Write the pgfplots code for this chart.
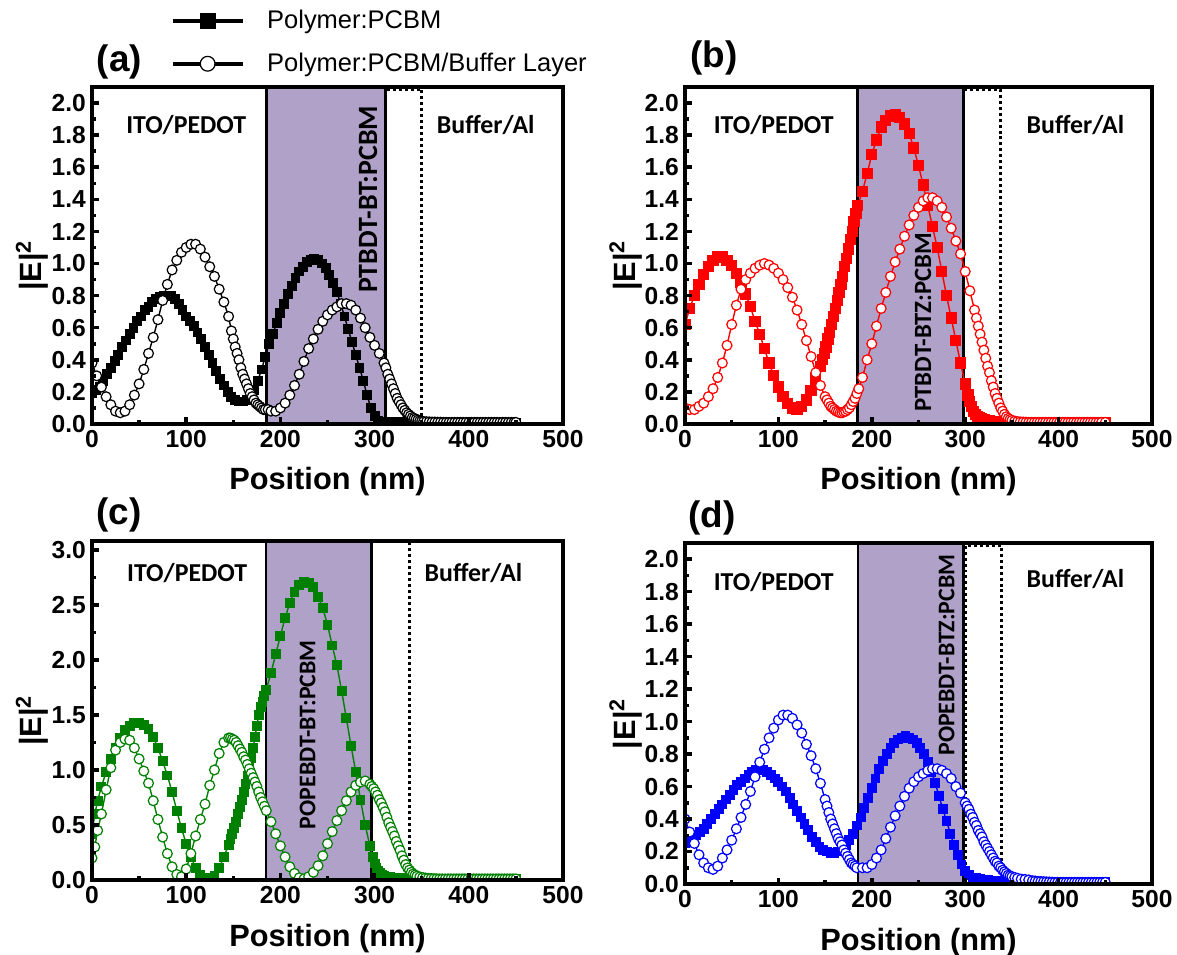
\documentclass[border=0pt]{standalone}
\usepackage{fontspec}
\setmainfont{Liberation Sans}
\newfontfamily\carl{Carlito}
\usepackage{pgfplots}
\usepackage{pgfplotstable}
\pgfplotsset{compat=1.18}

\definecolor{layer}{RGB}{176,161,200}
\definecolor{dgreen}{RGB}{0,128,0}

% panel (a): PTBDT-BT
\pgfplotstableread[row sep=\\]{
x y\\
0 0.19\\ 4 0.21\\ 8 0.23\\ 12 0.27\\ 16 0.31\\ 20 0.35\\ 24 0.39\\ 28 0.43\\ 32 0.48\\ 36 0.52\\
40 0.56\\ 44 0.60\\ 48 0.64\\ 52 0.67\\ 56 0.71\\ 60 0.73\\ 64 0.76\\ 68 0.78\\ 72 0.79\\ 76 0.80\\
80 0.80\\ 84 0.80\\ 88 0.78\\ 92 0.75\\ 96 0.71\\ 100 0.67\\ 104 0.64\\ 108 0.61\\ 112 0.57\\ 116 0.53\\
120 0.48\\ 124 0.43\\ 128 0.38\\ 132 0.33\\ 136 0.28\\ 140 0.24\\ 144 0.20\\ 148 0.17\\ 152 0.15\\ 156 0.14\\
160 0.14\\ 164 0.15\\ 168 0.17\\ 172 0.21\\ 176 0.27\\ 180 0.34\\ 184 0.42\\ 188 0.50\\ 192 0.56\\ 196 0.63\\
200 0.69\\ 204 0.75\\ 208 0.81\\ 212 0.86\\ 216 0.91\\ 220 0.95\\ 224 0.98\\ 228 1.01\\ 232 1.02\\ 236 1.03\\
240 1.02\\ 244 1.00\\ 248 0.97\\ 252 0.93\\ 256 0.88\\ 260 0.82\\ 264 0.75\\ 268 0.67\\ 272 0.59\\ 276 0.51\\
280 0.43\\ 284 0.35\\ 288 0.27\\ 292 0.18\\ 296 0.10\\ 300 0.05\\ 304 0.02\\ 308 0.015\\ 312 0.012\\ 316 0.011\\
320 0.01\\ 324 0.01\\ 328 0.01\\ 332 0.01\\ 336 0.01\\ 340 0.008\\ 344 0.008\\ 348 0.008\\ 352 0.007\\ 356 0.007\\
360 0.006\\ 364 0.006\\ 368 0.006\\ 372 0.005\\ 376 0.005\\ 380 0.005\\ 384 0.005\\ 388 0.005\\ 392 0.005\\ 396 0.005\\
400 0.005\\ 404 0.005\\ 408 0.005\\ 412 0.005\\ 416 0.005\\ 420 0.005\\ 424 0.005\\ 428 0.005\\ 432 0.005\\ 436 0.005\\
440 0.005\\ 444 0.005\\ 448 0.005\\ 450 0.005\\
}\asq
\pgfplotstableread[row sep=\\]{
x y\\
0 0.38\\ 5 0.30\\ 10 0.23\\ 15 0.17\\ 20 0.12\\ 25 0.08\\ 30 0.07\\ 35 0.08\\ 40 0.12\\ 45 0.18\\
50 0.25\\ 55 0.34\\ 60 0.44\\ 65 0.54\\ 70 0.65\\ 75 0.77\\ 80 0.87\\ 85 0.96\\ 90 1.02\\ 95 1.07\\
100 1.10\\ 105 1.12\\ 110 1.12\\ 115 1.09\\ 120 1.04\\ 125 0.98\\ 130 0.92\\ 135 0.84\\ 140 0.76\\ 145 0.67\\
148 0.58\\ 150 0.53\\ 152 0.48\\ 154 0.44\\ 156 0.40\\ 158 0.35\\ 160 0.31\\ 162 0.28\\ 164 0.25\\ 166 0.22\\
168 0.19\\ 170 0.17\\ 172 0.15\\ 174 0.13\\ 176 0.12\\ 178 0.11\\ 180 0.10\\ 182 0.09\\ 184 0.09\\ 187 0.09\\
190 0.08\\ 195 0.08\\ 200 0.10\\ 205 0.13\\ 210 0.18\\ 215 0.24\\ 220 0.31\\ 225 0.39\\ 230 0.47\\ 235 0.53\\
240 0.59\\ 245 0.64\\ 250 0.68\\ 255 0.71\\ 260 0.73\\ 265 0.75\\ 270 0.75\\ 275 0.74\\ 280 0.71\\ 285 0.66\\
290 0.60\\ 295 0.54\\ 300 0.49\\ 305 0.44\\ 310 0.38\\ 312 0.35\\ 314 0.31\\ 316 0.28\\ 318 0.25\\ 320 0.22\\
322 0.19\\ 324 0.16\\ 326 0.14\\ 328 0.12\\ 330 0.10\\ 332 0.085\\ 334 0.07\\ 336 0.06\\ 338 0.05\\ 340 0.04\\
342 0.035\\ 344 0.03\\ 346 0.025\\ 348 0.02\\ 350 0.018\\ 352 0.015\\ 355 0.014\\ 358 0.013\\ 361 0.012\\ 364 0.012\\
367 0.011\\ 370 0.011\\ 373 0.01\\ 376 0.01\\ 379 0.01\\ 382 0.01\\ 385 0.01\\ 388 0.01\\ 391 0.01\\ 394 0.01\\
397 0.01\\ 400 0.01\\ 403 0.01\\ 406 0.01\\ 409 0.01\\ 412 0.01\\ 415 0.01\\ 418 0.01\\ 421 0.01\\ 424 0.01\\
427 0.01\\ 430 0.01\\ 433 0.01\\ 436 0.01\\ 439 0.01\\ 442 0.01\\ 445 0.01\\ 448 0.01\\ 450 0.01\\
}\aci

% panel (b): PTBDT-BTZ
\pgfplotstableread[row sep=\\]{
x y\\
0 0.62\\ 5 0.72\\ 10 0.80\\ 15 0.87\\ 20 0.93\\ 25 0.98\\ 30 1.02\\ 35 1.04\\ 40 1.04\\ 45 1.02\\
50 0.99\\ 55 0.94\\ 60 0.88\\ 65 0.81\\ 70 0.73\\ 75 0.64\\ 80 0.56\\ 85 0.47\\ 90 0.38\\ 95 0.30\\
100 0.23\\ 105 0.17\\ 110 0.13\\ 115 0.10\\ 120 0.09\\ 125 0.11\\ 130 0.15\\ 135 0.21\\ 140 0.28\\ 145 0.36\\
147 0.40\\ 149 0.44\\ 151 0.48\\ 153 0.53\\ 155 0.57\\ 157 0.62\\ 159 0.67\\ 161 0.72\\ 163 0.77\\ 165 0.82\\
167 0.87\\ 169 0.92\\ 171 0.98\\ 173 1.03\\ 175 1.09\\ 177 1.15\\ 179 1.20\\ 181 1.26\\ 183 1.31\\ 185 1.36\\
190 1.45\\ 195 1.56\\ 200 1.68\\ 205 1.77\\ 210 1.85\\ 215 1.89\\ 220 1.92\\ 225 1.93\\ 230 1.91\\ 235 1.87\\
240 1.81\\ 245 1.72\\ 250 1.61\\ 255 1.49\\ 260 1.36\\ 265 1.23\\ 270 1.10\\ 275 0.95\\ 280 0.80\\ 285 0.66\\
290 0.52\\ 295 0.38\\ 300 0.25\\ 303 0.18\\ 305 0.14\\ 307 0.11\\ 309 0.08\\ 311 0.06\\ 313 0.048\\ 315 0.04\\
317 0.033\\ 320 0.027\\ 323 0.023\\ 326 0.02\\ 330 0.017\\ 334 0.015\\ 338 0.013\\ 342 0.012\\ 346 0.011\\ 350 0.01\\
354 0.01\\ 358 0.01\\ 362 0.01\\ 366 0.01\\ 370 0.01\\ 374 0.01\\ 378 0.01\\ 382 0.01\\ 386 0.01\\ 390 0.01\\
394 0.01\\ 398 0.01\\ 402 0.01\\ 406 0.01\\ 410 0.01\\ 414 0.01\\ 418 0.01\\ 422 0.01\\ 426 0.01\\ 430 0.01\\
434 0.01\\ 438 0.01\\ 442 0.01\\ 446 0.01\\ 450 0.01\\
}\bsq
\pgfplotstableread[row sep=\\]{
x y\\
0 0.10\\ 5 0.09\\ 10 0.09\\ 15 0.11\\ 20 0.13\\ 25 0.17\\ 30 0.22\\ 35 0.29\\ 40 0.38\\ 45 0.49\\
50 0.62\\ 55 0.74\\ 60 0.84\\ 65 0.90\\ 70 0.94\\ 75 0.97\\ 80 0.99\\ 85 1.00\\ 90 0.99\\ 95 0.97\\
100 0.94\\ 105 0.90\\ 110 0.85\\ 115 0.79\\ 120 0.71\\ 125 0.62\\ 130 0.52\\ 135 0.42\\ 140 0.32\\ 145 0.24\\
150 0.17\\ 152 0.15\\ 154 0.13\\ 156 0.11\\ 158 0.10\\ 160 0.09\\ 162 0.08\\ 164 0.075\\ 166 0.07\\ 168 0.07\\
170 0.075\\ 172 0.08\\ 174 0.09\\ 176 0.10\\ 178 0.12\\ 180 0.14\\ 182 0.16\\ 184 0.19\\ 186 0.22\\ 190 0.29\\
195 0.40\\ 200 0.50\\ 205 0.61\\ 210 0.72\\ 215 0.82\\ 220 0.92\\ 225 1.01\\ 230 1.09\\ 235 1.17\\ 240 1.24\\
245 1.30\\ 250 1.35\\ 255 1.39\\ 260 1.41\\ 265 1.41\\ 270 1.39\\ 275 1.35\\ 280 1.29\\ 285 1.22\\ 290 1.14\\
295 1.06\\ 300 0.95\\ 305 0.83\\ 310 0.71\\ 312 0.66\\ 314 0.61\\ 316 0.56\\ 318 0.51\\ 320 0.46\\ 322 0.41\\
324 0.36\\ 326 0.32\\ 328 0.27\\ 330 0.23\\ 332 0.19\\ 334 0.16\\ 336 0.13\\ 338 0.10\\ 340 0.08\\ 342 0.06\\
344 0.045\\ 346 0.035\\ 348 0.028\\ 350 0.022\\ 353 0.018\\ 356 0.015\\ 359 0.013\\ 362 0.012\\ 365 0.011\\ 368 0.01\\
371 0.01\\ 374 0.01\\ 377 0.01\\ 380 0.01\\ 383 0.01\\ 386 0.01\\ 389 0.01\\ 392 0.01\\ 395 0.01\\ 398 0.01\\
401 0.01\\ 404 0.01\\ 407 0.01\\ 410 0.01\\ 413 0.01\\ 416 0.01\\ 419 0.01\\ 422 0.01\\ 425 0.01\\ 428 0.01\\
431 0.01\\ 434 0.01\\ 437 0.01\\ 440 0.01\\ 443 0.01\\ 446 0.01\\ 450 0.01\\
}\bci

% panel (c): POPEBDT-BT
\pgfplotstableread[row sep=\\]{
x y\\
0 0.42\\ 3 0.60\\ 6 0.72\\ 10 0.85\\ 15 0.98\\ 20 1.10\\ 25 1.20\\ 30 1.29\\ 35 1.36\\ 40 1.40\\
45 1.43\\ 50 1.43\\ 55 1.41\\ 60 1.37\\ 65 1.30\\ 70 1.20\\ 75 1.08\\ 80 0.95\\ 85 0.80\\ 90 0.63\\
95 0.47\\ 100 0.33\\ 105 0.21\\ 110 0.11\\ 115 0.05\\ 120 0.015\\ 125 0.01\\ 130 0.04\\ 135 0.11\\ 140 0.21\\
145 0.32\\ 147 0.37\\ 149 0.42\\ 151 0.47\\ 153 0.53\\ 155 0.60\\ 157 0.66\\ 159 0.73\\ 161 0.80\\ 163 0.87\\
165 0.95\\ 167 1.03\\ 169 1.11\\ 171 1.20\\ 173 1.30\\ 175 1.40\\ 177 1.50\\ 179 1.57\\ 181 1.62\\ 183 1.67\\
185 1.73\\ 190 1.88\\ 195 2.05\\ 200 2.22\\ 205 2.38\\ 210 2.52\\ 215 2.62\\ 220 2.68\\ 225 2.71\\ 230 2.70\\
235 2.66\\ 240 2.57\\ 245 2.47\\ 250 2.32\\ 255 2.13\\ 260 1.95\\ 265 1.72\\ 270 1.47\\ 275 1.22\\ 280 0.98\\
285 0.73\\ 290 0.50\\ 295 0.31\\ 298 0.21\\ 300 0.15\\ 302 0.11\\ 304 0.08\\ 306 0.06\\ 308 0.045\\ 310 0.037\\
313 0.03\\ 316 0.025\\ 320 0.02\\ 325 0.017\\ 330 0.015\\ 334 0.013\\ 338 0.012\\ 342 0.011\\ 346 0.01\\ 350 0.01\\
354 0.01\\ 358 0.01\\ 362 0.01\\ 366 0.01\\ 370 0.01\\ 374 0.01\\ 378 0.01\\ 382 0.01\\ 386 0.01\\ 390 0.01\\
394 0.01\\ 398 0.01\\ 402 0.01\\ 406 0.01\\ 410 0.01\\ 414 0.01\\ 418 0.01\\ 422 0.01\\ 426 0.01\\ 430 0.01\\
434 0.01\\ 438 0.01\\ 442 0.01\\ 446 0.01\\ 450 0.01\\
}\csq
\pgfplotstableread[row sep=\\]{
x y\\
0 0.20\\ 3 0.30\\ 6 0.45\\ 10 0.60\\ 15 0.82\\ 20 1.02\\ 25 1.18\\ 30 1.25\\ 35 1.28\\ 40 1.27\\
45 1.20\\ 50 1.10\\ 55 0.99\\ 60 0.88\\ 65 0.72\\ 70 0.55\\ 75 0.39\\ 80 0.24\\ 85 0.12\\ 90 0.05\\
95 0.03\\ 100 0.10\\ 105 0.24\\ 110 0.40\\ 115 0.55\\ 120 0.69\\ 125 0.86\\ 130 1.00\\ 135 1.15\\ 140 1.25\\
145 1.29\\ 147 1.29\\ 149 1.28\\ 151 1.27\\ 153 1.25\\ 155 1.22\\ 157 1.19\\ 159 1.16\\ 161 1.12\\ 163 1.09\\
165 1.05\\ 167 1.01\\ 169 0.97\\ 171 0.93\\ 173 0.89\\ 175 0.85\\ 177 0.80\\ 179 0.75\\ 181 0.71\\ 183 0.67\\
185 0.63\\ 190 0.53\\ 195 0.42\\ 200 0.31\\ 205 0.21\\ 210 0.12\\ 215 0.06\\ 220 0.02\\ 225 0.01\\ 230 0.03\\
235 0.07\\ 240 0.13\\ 245 0.22\\ 250 0.33\\ 255 0.44\\ 260 0.54\\ 265 0.63\\ 270 0.72\\ 275 0.80\\ 280 0.86\\
285 0.89\\ 290 0.90\\ 295 0.87\\ 297 0.85\\ 299 0.83\\ 301 0.80\\ 303 0.77\\ 305 0.73\\ 307 0.70\\ 309 0.66\\
311 0.62\\ 313 0.57\\ 315 0.52\\ 317 0.48\\ 319 0.44\\ 321 0.40\\ 323 0.35\\ 325 0.31\\ 327 0.27\\ 329 0.22\\
331 0.18\\ 333 0.14\\ 335 0.11\\ 337 0.09\\ 339 0.07\\ 341 0.055\\ 343 0.045\\ 345 0.035\\ 348 0.028\\ 351 0.022\\
354 0.018\\ 357 0.015\\ 360 0.013\\ 363 0.012\\ 366 0.011\\ 369 0.01\\ 372 0.01\\ 375 0.01\\ 378 0.01\\ 381 0.01\\
384 0.01\\ 387 0.01\\ 390 0.01\\ 393 0.01\\ 396 0.01\\ 399 0.01\\ 402 0.01\\ 405 0.01\\ 408 0.01\\ 411 0.01\\
414 0.01\\ 417 0.01\\ 420 0.01\\ 423 0.01\\ 426 0.01\\ 429 0.01\\ 432 0.01\\ 435 0.01\\ 438 0.01\\ 441 0.01\\
444 0.01\\ 447 0.01\\ 450 0.01\\
}\cci

% panel (d): POPEBDT-BTZ
\pgfplotstableread[row sep=\\]{
x y\\
0 0.25\\ 4 0.26\\ 8 0.28\\ 12 0.30\\ 16 0.32\\ 20 0.34\\ 24 0.37\\ 28 0.40\\ 32 0.43\\ 36 0.46\\
40 0.49\\ 44 0.52\\ 48 0.55\\ 52 0.58\\ 56 0.61\\ 60 0.63\\ 64 0.65\\ 68 0.67\\ 72 0.69\\ 76 0.70\\
80 0.70\\ 84 0.70\\ 88 0.69\\ 92 0.67\\ 96 0.65\\ 100 0.63\\ 104 0.60\\ 108 0.57\\ 112 0.53\\ 116 0.49\\
120 0.45\\ 124 0.41\\ 128 0.37\\ 132 0.33\\ 136 0.29\\ 140 0.26\\ 144 0.23\\ 148 0.21\\ 152 0.20\\ 156 0.19\\
160 0.19\\ 164 0.20\\ 168 0.22\\ 172 0.24\\ 176 0.27\\ 180 0.31\\ 184 0.36\\ 188 0.41\\ 192 0.47\\ 196 0.53\\
200 0.59\\ 204 0.65\\ 208 0.71\\ 212 0.76\\ 216 0.80\\ 220 0.84\\ 224 0.87\\ 228 0.89\\ 232 0.90\\ 236 0.91\\
240 0.90\\ 244 0.89\\ 248 0.87\\ 252 0.84\\ 256 0.80\\ 260 0.75\\ 264 0.69\\ 268 0.62\\ 272 0.54\\ 276 0.46\\
280 0.39\\ 284 0.31\\ 288 0.24\\ 292 0.18\\ 296 0.12\\ 300 0.08\\ 304 0.055\\ 308 0.04\\ 312 0.035\\ 316 0.03\\
320 0.028\\ 324 0.025\\ 328 0.02\\ 332 0.018\\ 336 0.016\\ 340 0.014\\ 344 0.013\\ 348 0.012\\ 352 0.011\\ 356 0.01\\
360 0.01\\ 364 0.01\\ 368 0.01\\ 372 0.01\\ 376 0.01\\ 380 0.01\\ 384 0.01\\ 388 0.01\\ 392 0.01\\ 396 0.01\\
400 0.01\\ 404 0.01\\ 408 0.01\\ 412 0.01\\ 416 0.01\\ 420 0.01\\ 424 0.01\\ 428 0.01\\ 432 0.01\\ 436 0.01\\
440 0.01\\ 444 0.01\\ 448 0.01\\ 450 0.01\\
}\dsq
\pgfplotstableread[row sep=\\]{
x y\\
0 0.40\\ 5 0.32\\ 10 0.25\\ 15 0.18\\ 20 0.13\\ 25 0.10\\ 30 0.09\\ 35 0.11\\ 40 0.16\\ 45 0.21\\
50 0.27\\ 55 0.34\\ 60 0.41\\ 65 0.49\\ 70 0.57\\ 75 0.66\\ 80 0.75\\ 85 0.83\\ 90 0.90\\ 95 0.96\\
100 1.01\\ 105 1.04\\ 110 1.04\\ 115 1.02\\ 120 0.98\\ 125 0.93\\ 130 0.86\\ 135 0.79\\ 140 0.71\\ 145 0.62\\
150 0.52\\ 152 0.48\\ 154 0.44\\ 156 0.40\\ 158 0.37\\ 160 0.34\\ 162 0.31\\ 164 0.28\\ 166 0.26\\ 168 0.24\\
170 0.21\\ 172 0.19\\ 174 0.17\\ 176 0.15\\ 178 0.13\\ 180 0.12\\ 182 0.11\\ 184 0.10\\ 190 0.10\\ 195 0.10\\
200 0.12\\ 205 0.16\\ 210 0.21\\ 215 0.28\\ 220 0.35\\ 225 0.42\\ 230 0.48\\ 235 0.54\\ 240 0.59\\ 245 0.63\\
250 0.66\\ 255 0.68\\ 260 0.70\\ 265 0.71\\ 270 0.71\\ 275 0.70\\ 280 0.68\\ 285 0.65\\ 290 0.60\\ 295 0.56\\
300 0.50\\ 302 0.48\\ 304 0.46\\ 306 0.43\\ 308 0.41\\ 310 0.38\\ 312 0.36\\ 314 0.33\\ 316 0.31\\ 318 0.29\\
320 0.26\\ 322 0.24\\ 324 0.22\\ 326 0.20\\ 328 0.18\\ 330 0.16\\ 332 0.14\\ 334 0.13\\ 336 0.11\\ 338 0.10\\
340 0.085\\ 342 0.075\\ 344 0.065\\ 346 0.055\\ 348 0.05\\ 350 0.045\\ 353 0.04\\ 356 0.035\\ 360 0.03\\ 364 0.028\\
368 0.025\\ 372 0.02\\ 375 0.018\\ 378 0.016\\ 381 0.015\\ 384 0.014\\ 387 0.013\\ 390 0.012\\ 393 0.011\\ 396 0.01\\
399 0.01\\ 402 0.01\\ 405 0.01\\ 408 0.01\\ 411 0.01\\ 414 0.01\\ 417 0.01\\ 420 0.01\\ 423 0.01\\ 426 0.01\\
429 0.01\\ 432 0.01\\ 435 0.01\\ 438 0.01\\ 441 0.01\\ 444 0.01\\ 447 0.01\\ 450 0.01\\
}\dci

\pgfplotsset{
  panel/.style={
    scale only axis, xmin=0, xmax=500, ymin=0,
    axis on top, clip marker paths=true,
    axis line style={line width=2.4pt},
    tick style={line width=2pt, black},
    major tick length=0.13cm, minor tick length=0.08cm,
    tick align=inside, xtick pos=left, ytick pos=left,
    xtick={0,100,200,300,400,500}, minor x tick num=1, minor y tick num=1,
    /pgf/number format/assume math mode=true,
    ticklabel style={font=\fontsize{14}{16}\selectfont\bfseries},
    yticklabel style={/pgf/number format/fixed, /pgf/number format/fixed zerofill, /pgf/number format/precision=1},
    label style={font=\fontsize{17.5}{20}\selectfont\bfseries},
    xlabel={Position (nm)}, ylabel={|E|\textsuperscript{2}},
    xlabel style={at={(axis description cs:0.5,-0.172)}, anchor=center},
    ylabel style={at={(axis description cs:-0.127,0.47)}, anchor=center},
  },
  sq/.style={mark=square*, mark size=2.4pt, line width=0.8pt},
  ci/.style={mark=*, mark size=2.8pt, line width=0.8pt, mark options={fill=white, line width=0.7pt}},
}
\tikzset{
  lay/.style={font=\carl\bfseries\fontsize{14.7}{17}\selectfont},
  tag/.style={font=\fontsize{21}{25}\selectfont\bfseries},
}

\begin{document}
\begin{tikzpicture}
\useasboundingbox (0,0) rectangle (23.54cm,19.1cm);

% (a)
\begin{axis}[panel, at={(1.84cm,10.62cm)}, anchor=south west, width=9.42cm, height=6.74cm,
  ymax=2.1, ytick={0,0.2,0.4,0.6,0.8,1.0,1.2,1.4,1.6,1.8,2.0},
  after end axis/.code={\node[tag] at (axis description cs:0.058,1.074) {(a)};},
  legend style={draw=none, fill=none, at={(axis description cs:0.155,1.25)}, anchor=north west,
    font=\fontsize{14.5}{17}\selectfont, row sep=8.5pt, cells={anchor=west},
    /tikz/every odd column/.append style={column sep=0.38cm}},
  legend image code/.code={
    \draw[#1, mark=none, line width=2.3pt] (0cm,0cm) -- (1.40cm,0cm);
    \draw[#1, line width=0.8pt, mark size=4.2pt, only marks] plot coordinates {(0.70cm,0cm)};}]
\fill[layer] (axis cs:185,0) rectangle (axis cs:312,2.1);
\draw[line width=1.8pt] (axis cs:185,0) -- (axis cs:185,2.1);
\draw[line width=1.8pt] (axis cs:312,0) -- (axis cs:312,2.1);
\draw[line width=1.7pt, dash pattern=on 1.7pt off 1.7pt] (axis cs:312,0.005) rectangle (axis cs:350,2.085);
\node[lay] at (axis cs:100,1.86) {ITO/PEDOT};
\node[lay] at (axis cs:418,1.86) {Buffer/Al};
\node[rotate=90, font=\carl\bfseries\fontsize{15.9}{18}\selectfont] at (axis cs:293,1.40) {PTBDT-BT:PCBM};
\addplot[black, sq] table {\asq};
\addlegendentry{Polymer:PCBM}
\addplot[black, ci] table {\aci};
\addlegendentry{Polymer:PCBM/Buffer Layer}
\end{axis}

% (b)
\begin{axis}[panel, at={(13.70cm,10.62cm)}, anchor=south west, width=9.34cm, height=6.74cm,
  ymax=2.1, ytick={0,0.2,0.4,0.6,0.8,1.0,1.2,1.4,1.6,1.8,2.0},
  after end axis/.code={\node[tag] at (axis description cs:0.062,1.086) {(b)};}]
\fill[layer] (axis cs:185,0) rectangle (axis cs:298,2.1);
\draw[line width=1.8pt] (axis cs:185,0) -- (axis cs:185,2.1);
\draw[line width=1.8pt] (axis cs:298,0) -- (axis cs:298,2.1);
\draw[line width=1.7pt, dash pattern=on 1.7pt off 1.7pt] (axis cs:298,0.005) rectangle (axis cs:338,2.085);
\node[lay] at (axis cs:95,1.86) {ITO/PEDOT};
\node[lay] at (axis cs:418,1.86) {Buffer/Al};
\node[rotate=90, font=\carl\bfseries\fontsize{14.1}{17}\selectfont] at (axis cs:255,0.635) {PTBDT-BTZ:PCBM};
\addplot[red, sq, mark size=2.8pt] table {\bsq};
\addplot[red, ci] table {\bci};
\end{axis}

% (c)
\begin{axis}[panel, at={(1.84cm,1.50cm)}, anchor=south west, width=9.42cm, height=6.78cm,
  ymax=3.08, ytick={0,0.5,1.0,1.5,2.0,2.5,3.0},
  after end axis/.code={\node[tag] at (axis description cs:0.057,1.077) {(c)};}]
\fill[layer] (axis cs:185,0) rectangle (axis cs:297,3.08);
\draw[line width=1.2pt] (axis cs:185,0) -- (axis cs:185,3.08);
\draw[line width=1.8pt] (axis cs:297,0) -- (axis cs:297,3.08);
\draw[line width=1.7pt, dash pattern=on 1.7pt off 1.7pt] (axis cs:337,0) -- (axis cs:337,3.08);
\node[lay] at (axis cs:101,2.79) {ITO/PEDOT};
\node[lay] at (axis cs:405,2.79) {Buffer/Al};
\node[rotate=90, font=\carl\bfseries\fontsize{13.6}{16}\selectfont] at (axis cs:229,1.32) {POPEBDT-BT:PCBM};
\addplot[dgreen, sq] table {\csq};
\addplot[dgreen, ci] table {\cci};
\end{axis}

% (d)
\begin{axis}[panel, at={(13.70cm,1.42cm)}, anchor=south west, width=9.34cm, height=6.82cm,
  ymax=2.1, ytick={0,0.2,0.4,0.6,0.8,1.0,1.2,1.4,1.6,1.8,2.0},
  after end axis/.code={\node[tag] at (axis description cs:0.058,1.073) {(d)};}]
\fill[layer] (axis cs:185,0) rectangle (axis cs:298,2.1);
\draw[line width=1.4pt] (axis cs:185,0) -- (axis cs:185,2.1);
\draw[line width=1.8pt] (axis cs:298,0) -- (axis cs:298,2.1);
\draw[line width=1.7pt, dash pattern=on 1.7pt off 1.7pt] (axis cs:300,0.005) rectangle (axis cs:339,2.085);
\node[lay] at (axis cs:95,1.86) {ITO/PEDOT};
\node[lay] at (axis cs:418,1.88) {Buffer/Al};
\node[rotate=90, font=\carl\bfseries\fontsize{13.6}{16}\selectfont] at (axis cs:280,1.41) {POPEBDT-BTZ:PCBM};
\addplot[blue, sq] table {\dsq};
\addplot[blue, ci] table {\dci};
\end{axis}
\end{tikzpicture}
\end{document}
